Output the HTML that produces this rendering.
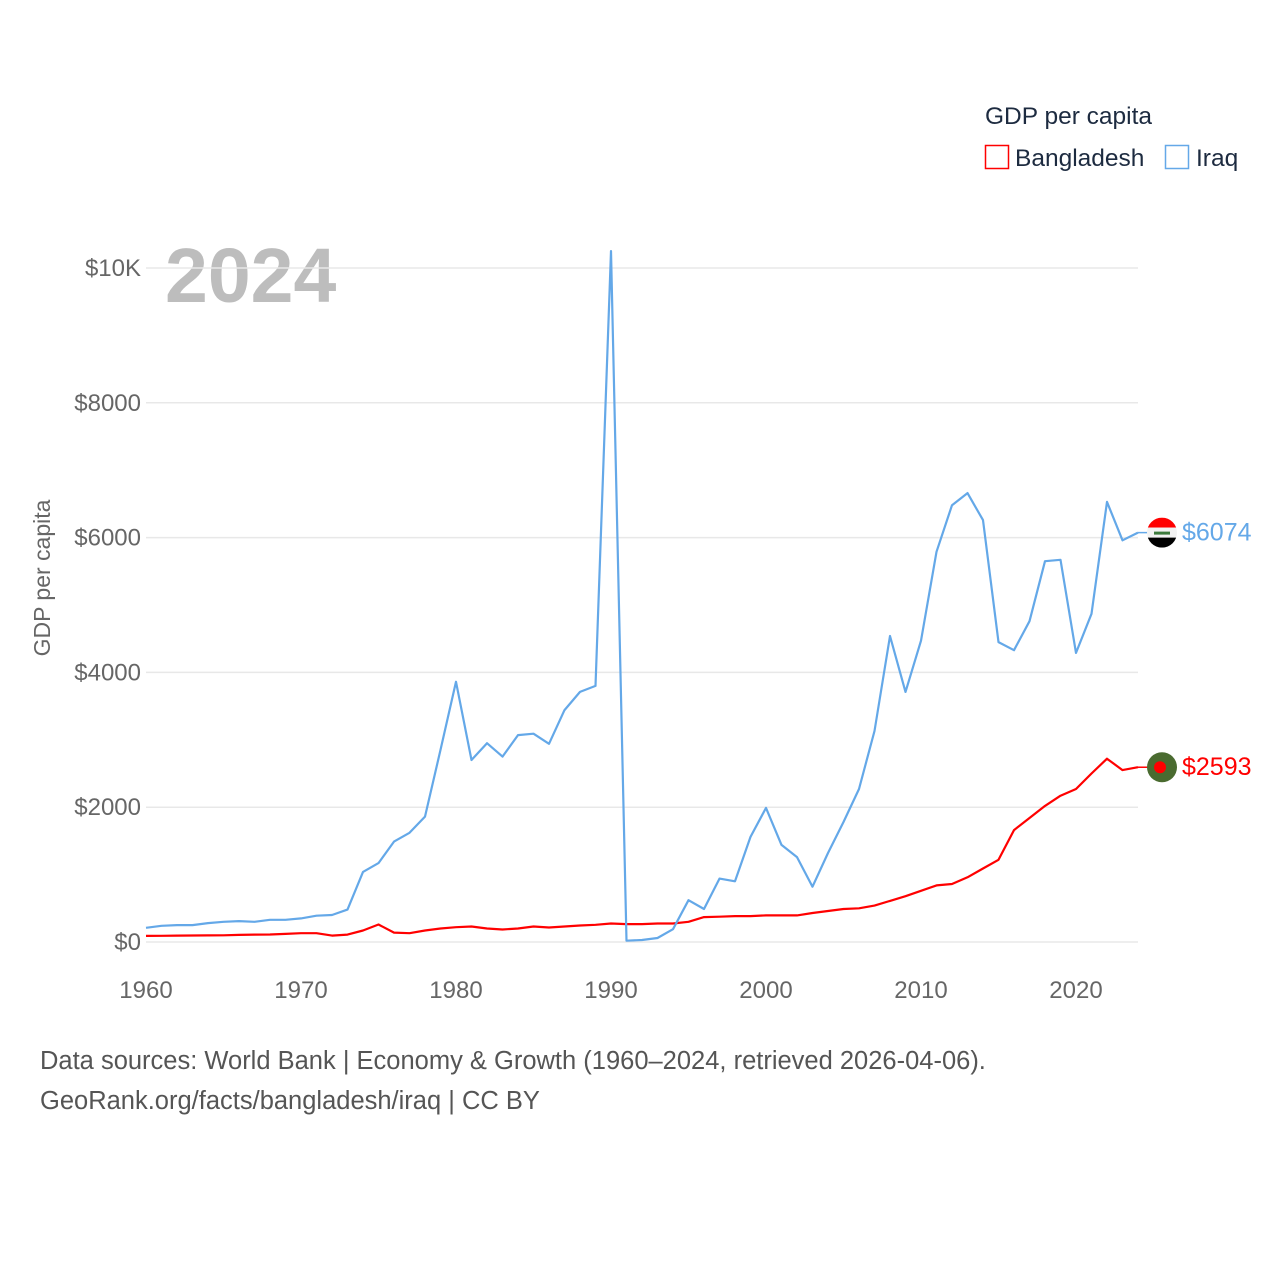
<!DOCTYPE html>
<html><head><meta charset="utf-8">
<style>
html,body{margin:0;padding:0;background:#fff;}
body{width:1280px;height:1280px;position:relative;overflow:hidden;font-family:"Liberation Sans",sans-serif;}
svg text{font-family:"Liberation Sans",sans-serif;}
</style></head>
<body>
<svg id="chart" width="1280" height="1280" xmlns="http://www.w3.org/2000/svg">
  <text x="985" y="124" font-size="24.5" fill="#1d2b40">GDP per capita</text>
  <g>
    <rect x="985.5" y="145.5" width="23" height="23" fill="none" stroke="#ff0000" stroke-width="1.5"/>
    <text x="1015" y="166" font-size="24.5" fill="#1d2b40">Bangladesh</text>
  </g>
  <g>
    <rect x="1165.5" y="145.5" width="23" height="23" fill="none" stroke="#64a8e8" stroke-width="1.5"/>
    <text x="1196" y="166" font-size="24.5" fill="#1d2b40">Iraq</text>
  </g>
  <text x="165" y="302" font-size="77" font-weight="bold" fill="#bdbdbd">2024</text>
  <text transform="translate(50,578) rotate(-90)" text-anchor="middle" font-size="23" fill="#666">GDP per capita</text>
  <g id="grid"></g>
  <g id="yticks"></g>
  <g id="xticks"></g>
  <g id="series"></g>
  <text x="40" y="1069" font-size="25.5" fill="#555">Data sources: World Bank | Economy &amp; Growth (1960–2024, retrieved 2026-04-06).</text>
  <text x="40" y="1109" font-size="25.5" fill="#555">GeoRank.org/facts/bangladesh/iraq | CC BY</text>
</svg>
<script>
const years = [];
for (let y = 1960; y <= 2024; y++) years.push(y);
const iraq = [210,240,250,250,280,300,310,300,330,330,350,390,400,480,1040,1170,1490,1620,1860,2850,3860,2700,2950,2750,3070,3090,2940,3440,3710,3800,10250,20,30,60,190,620,490,940,900,1560,1990,1440,1260,820,1320,1780,2270,3130,4540,3710,4470,5790,6480,6660,6260,4450,4330,4760,5650,5670,4290,4870,6530,5960,6074];
const bangladesh = [90,92,95,97,98,100,105,110,112,120,130,130,95,110,170,260,140,130,170,200,220,230,200,185,200,230,215,230,245,255,275,265,265,275,275,300,370,375,385,385,395,395,395,430,460,490,500,540,610,680,760,840,860,960,1090,1220,1660,1840,2020,2170,2270,2500,2720,2550,2593];
const yTickVals = [0,2000,4000,6000,8000,10000];
const yTickLabels = ["$0","$2000","$4000","$6000","$8000","$10K"];
const xTickVals = [1960,1970,1980,1990,2000,2010,2020];

const NS = "http://www.w3.org/2000/svg";
const xS = v => 146 + (v - 1960) * 15.5;
const yS = v => 942 - v * 0.0674;
function mk(tag, attrs, parent){const e=document.createElementNS(NS,tag);for(const k in attrs)e.setAttribute(k,attrs[k]);parent.appendChild(e);return e;}

const grid=document.getElementById('grid'), yt=document.getElementById('yticks'), xt=document.getElementById('xticks'), ser=document.getElementById('series');
yTickVals.forEach((v,i)=>{
  const l=mk('line',{x1:146,x2:1138,y1:yS(v),y2:yS(v),stroke:'#e8e8e8','stroke-width':1.5},grid);
  
  
  const t=mk('text',{x:141,y:yS(v)+8,'text-anchor':'end','font-size':24,fill:'#666'},yt);
  t.textContent=yTickLabels[i];
  
  
});
xTickVals.forEach(v=>{
  const t=mk('text',{x:xS(v),y:998,'text-anchor':'middle','font-size':24,fill:'#666'},xt);
  t.textContent=v;
  
  
});
function line(data,color,name){
  const d=data.map((v,i)=>(i?'L':'M')+xS(years[i]).toFixed(1)+','+yS(v).toFixed(1)).join('');
  const p=mk('path',{d:d,fill:'none',stroke:color,'stroke-width':2.2,'stroke-linejoin':'round'},ser);
  
  
}
line(bangladesh,'#ff0000','bangladesh-line');
line(iraq,'#64a8e8','iraq-line');

const lastI=iraq[iraq.length-1], lastB=bangladesh[bangladesh.length-1];
const cx=1162;
const iy=yS(lastI), by=yS(lastB);
mk('line',{x1:xS(2024),x2:cx-14,y1:iy,y2:iy,stroke:'#64a8e8','stroke-width':1.5},ser);
mk('line',{x1:xS(2024),x2:cx-14,y1:by,y2:by,stroke:'#ff0000','stroke-width':1.5},ser);
const fi=mk('g',{},ser);


mk('clipPath',{id:'ciq'},fi); mk('circle',{cx:cx,cy:iy,r:15},fi.lastChild);
const fg=mk('g',{'clip-path':'url(#ciq)'},fi);
mk('rect',{x:cx-15,y:iy-15,width:30,height:10,fill:'#ff0000'},fg);
mk('rect',{x:cx-15,y:iy-5,width:30,height:10,fill:'#f2f2f2'},fg);
mk('rect',{x:cx-15,y:iy+5,width:30,height:10,fill:'#000'},fg);
mk('rect',{x:cx-8,y:iy-1,width:16,height:3,fill:'#3c7a3c'},fg);
const fb=mk('g',{},ser);


mk('circle',{cx:cx,cy:by,r:15,fill:'#4a6b30'},fb);
mk('circle',{cx:cx-2,cy:by,r:6,fill:'#ff0000'},fb);
const li=mk('text',{x:1182,y:iy+8,'font-size':25,fill:'#64a8e8'},ser);
li.textContent='$'+lastI;


const lb=mk('text',{x:1182,y:by+8,'font-size':25,fill:'#ff0000'},ser);
lb.textContent='$'+lastB;


</script>
</body></html>
